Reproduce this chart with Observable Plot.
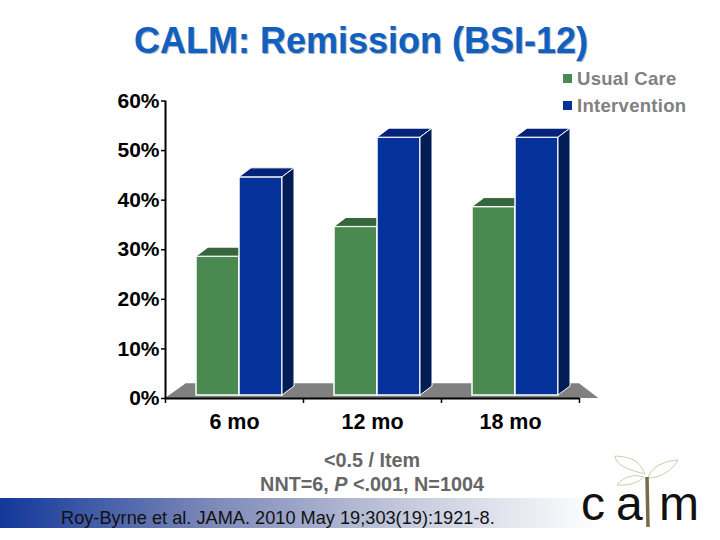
<!DOCTYPE html>
<html><head><meta charset="utf-8">
<script src="https://cdn.jsdelivr.net/npm/d3@7"></script>
<script src="https://cdn.jsdelivr.net/npm/@observablehq/plot@0.6"></script>
<style>
html,body{margin:0;padding:0;background:#fff;width:720px;height:540px;overflow:hidden;font-family:"Liberation Sans",Arial,sans-serif}
#stage{position:relative;width:720px;height:540px}
#chart{position:absolute;left:0;top:0}
.abs{position:absolute;white-space:nowrap}
#title{left:0;width:722px;text-align:center;top:20px;font-size:36px;line-height:42px;font-weight:bold;color:#1060c0;text-shadow:1px 1px 1px #a0abc0}
#band{left:0;top:498px;width:600px;height:30px;background:linear-gradient(90deg,#12389a 0%,#7c88b8 35%,#c9cede 70%,#ffffff 100%)}
#cite{left:61px;top:508px;font-size:18.2px;color:#111;line-height:20px}
.note{left:0;width:744px;text-align:center;font-size:19.8px;font-weight:bold;color:#666;line-height:22px}
.leg{left:577px;font-size:18.5px;font-weight:bold;color:#808080;line-height:22px;letter-spacing:.3px}
.sw{left:563px;width:9px;height:9px}
#logo{left:560px;top:445px}
</style></head><body>
<div id="stage">
<div id="chart"></div>
<div class="abs" id="title">CALM: Remission (BSI-12)</div>
<div class="abs sw" style="top:74px;background:#4a8a50"></div>
<div class="abs leg" id="leg1" style="top:68px">Usual Care</div>
<div class="abs sw" style="top:101px;background:#04319a"></div>
<div class="abs leg" id="leg2" style="top:95px">Intervention</div>
<div class="abs note" style="top:449px">&lt;0.5 / Item</div>
<div class="abs note" style="top:473px">NNT=6, <i>P</i> &lt;.001, N=1004</div>
<div class="abs" id="band"></div>
<div class="abs" id="cite">Roy-Byrne et al. JAMA. 2010 May 19;303(19):1921-8.</div>
<svg class="abs" id="logo" width="160" height="95" viewBox="0 0 160 95">
<g fill="none" stroke="#c9cdb0" stroke-width="1">
<path d="M85 29C78 12 66 12 55 11C56 22 74 26 85 29Z"/>
<path d="M88 33C92 20 106 16 118 15C112 26 100 33 88 33Z"/>
<path d="M84 32C74 29 64 31 57 40C68 41 78 38 84 32Z"/>
</g>
<path d="M87 32L88 82" stroke="#7a6a45" stroke-width="3.5" fill="none"/>
<text x="21 56" y="75" font-size="48" font-family="Liberation Sans" fill="#111">ca</text>
<text x="99" y="75" font-size="48" font-family="Liberation Sans" fill="#111">m</text>
</svg>
</div>
<script>
const months = ["6 mo", "12 mo", "18 mo"];
const usualCare = [28, 34, 38];
const intervention = [44, 52, 52];
const yTicks = [0, 10, 20, 30, 40, 50, 60];
const xBoundaries = [0, 1, 2, 3];

const green = {front:"#4a8a50", top:"#37663c", side:"#2c5230"};
const blue = {front:"#04319a", top:"#03237a", side:"#021c55"};
const rows = (vals, start) => vals.map((v,i)=>({i, value:v, x1:i+start, x2:i+start+43/138}));

function box3d(c){
  return function(index, scales, values, dims, ctx, next){
    const g = next(index, scales, values, dims, ctx);
    const dx = 12, dy = 9;
    for (const i of index){
      const l = values.x1[i], r = values.x2[i], t = Math.min(values.y1[i],values.y2[i]), b = Math.max(values.y1[i],values.y2[i]);
      const poly = (pts,fill) => {
        const p = document.createElementNS("http://www.w3.org/2000/svg","polygon");
        p.setAttribute("points",pts.map(q=>q.join(",")).join(" "));
        p.setAttribute("fill",fill); p.setAttribute("stroke","#fff"); p.setAttribute("stroke-width","1");
        g.appendChild(p);
      };
      poly([[l,t],[l+dx,t-dy],[r+dx,t-dy],[r,t]],c.top);
      poly([[r,t],[r+dx,t-dy],[r+dx,b-dy],[r,b]],c.side);
    }
    return g;
  };
}
const barOpts = c => ({x1:"x1",x2:"x2",y1:()=>0,y2:"value",fill:c.front,stroke:"#fff",strokeWidth:1.5,dy:-3,render:box3d(c)});

const plot = Plot.plot({
  width:720,height:540,
  marginTop:100.5,marginBottom:142,marginLeft:165,marginRight:141,
  x:{type:"linear",domain:[0,3],axis:null},
  y:{type:"linear",domain:[0,60],axis:null},
  style:{fontFamily:'"Liberation Sans",Arial,sans-serif',background:"transparent",overflow:"visible"},
  marks:[
    Plot.areaY([{x:0,y:0},{x:0.15,y:3},{x:3,y:3},{x:3.14,y:0}],{x:"x",y1:()=>0,y2:"y",fill:"#808080",curve:"linear"}),
    Plot.rect(rows(usualCare,31/138),barOpts(green)),
    Plot.rect(rows(intervention,74/138),barOpts(blue)),
    Plot.ruleY([0],{stroke:"#000",strokeWidth:2}),
    Plot.ruleX([0],{stroke:"#000",strokeWidth:2}),
    Plot.axisY({ticks:yTicks,tickSize:4,tickPadding:2,tickFormat:d=>d+"%",fontSize:21,fontWeight:"bold",label:null,stroke:"#000",strokeWidth:1.5,color:"#000"}),
    Plot.axisX({ticks:xBoundaries,tickSize:5,tickFormat:()=>"",label:null,stroke:"#000",strokeWidth:1.5}),
    Plot.text(months,{x:(d,i)=>i+0.5,frameAnchor:"bottom",dy:30,text:d=>d,fontSize:21.5,fontWeight:"bold",fill:"#000"})
  ]
});
document.getElementById("chart").appendChild(plot);
</script>
</body></html>
